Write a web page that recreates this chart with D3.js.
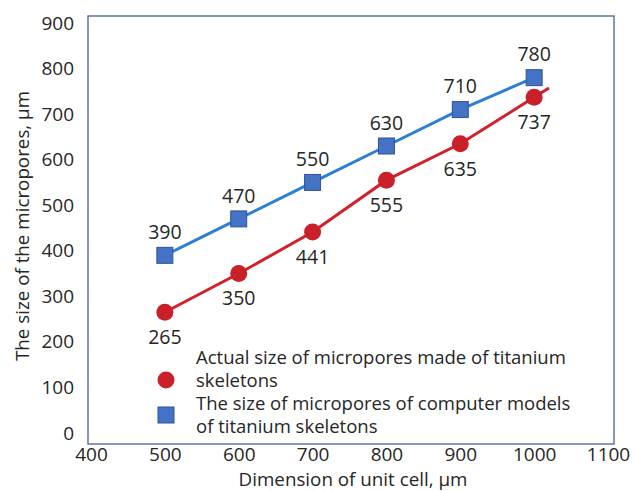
<!DOCTYPE html>
<html><head><meta charset="utf-8">
<script src="https://cdn.jsdelivr.net/npm/d3@7"></script>
<style>body{margin:0;background:#fff}svg{display:block}text{font-family:"Open Sans",sans-serif;fill:#262626}</style>
</head><body><svg id="c" width="635" height="491"></svg>
<script>
const cells = [500, 600, 700, 800, 900, 1000];
const actual = [265, 350, 441, 555, 635, 737];
const model = [390, 470, 550, 630, 710, 780];
const xTicks = [400, 500, 600, 700, 800, 900, 1000, 1100];
const yTicks = [0, 100, 200, 300, 400, 500, 600, 700, 800, 900];
const actualName = ["Actual size of micropores made of titanium", "skeletons"];
const modelName = ["The size of micropores of computer models", "of titanium skeletons"];
const xTitle = "Dimension of unit cell, μm";
const yTitle = "The size of the micropores, μm";

const svg = d3.select("#c");
const x = d3.scaleLinear().domain([400, 1100]).range([91, 608]);
const y = d3.scaleLinear().domain([0, 900]).range([433, 23]);
const red = "#C9202A", redLine = "#D0212C", blueFill = "#4472C4", blueStroke = "#2F5597", blueLine = "#2E7FD2";
const fTick = "19px", fLab = "19.5px", fText = "18.8px", fLeg = "18.5px";

// frame
svg.append("rect").attr("x", x(400) - 3).attr("y", y(900) - 7)
  .attr("width", x(1100) + 6 - (x(400) - 3)).attr("height", y(0) + 11 - (y(900) - 7))
  .attr("fill", "none").attr("stroke", "#5B76AC").attr("stroke-width", 1.5);

// axes (labels only)
const xAxis = d3.axisBottom(x).tickValues(xTicks).tickFormat(d3.format("d")).tickSize(0).tickPadding(0);
const gx = svg.append("g").attr("transform", "translate(0,447)").call(xAxis);
gx.select(".domain").remove();
gx.selectAll("text").attr("dy", "0.72em").style("font-size", fTick).attr("fill", "#262626");

const yAxis = d3.axisLeft(y).tickValues(yTicks).tickFormat(d3.format("d")).tickSize(0).tickPadding(0);
const gy = svg.append("g").attr("transform", "translate(74,0)").call(yAxis);
gy.select(".domain").remove();
gy.selectAll("text").style("font-size", fTick).attr("fill", "#262626");
svg.selectAll("g").attr("font-family", null).attr("font-size", null);

// lines
const line = d3.line().x(d => x(d[0])).y(d => y(d[1]));
const modelPts = cells.map((c, i) => [c, model[i]]);
const actualPts = cells.map((c, i) => [c, actual[i]]);
// red line extends a little past the last point along the last segment
const n = cells.length;
const slope = (actual[n-1] - actual[n-2]) / (cells[n-1] - cells[n-2]);
const ext = [1020, actual[n-1] + slope * (1020 - cells[n-1])];
svg.append("path").attr("d", line(modelPts)).attr("fill", "none").attr("stroke", blueLine).attr("stroke-width", 3);
svg.append("path").attr("d", line(actualPts.concat([ext]))).attr("fill", "none").attr("stroke", redLine).attr("stroke-width", 3);

// markers
const s = 16;
svg.selectAll(".sq").data(modelPts).enter().append("rect")
  .attr("x", d => x(d[0]) - s/2).attr("y", d => y(d[1]) - s/2).attr("width", s).attr("height", s)
  .attr("fill", blueFill).attr("stroke", blueStroke).attr("stroke-width", 1);
svg.selectAll(".ci").data(actualPts).enter().append("circle")
  .attr("cx", d => x(d[0])).attr("cy", d => y(d[1])).attr("r", 8.5).attr("fill", red);

// data labels
svg.selectAll(".lm").data(modelPts).enter().append("text")
  .attr("x", d => x(d[0])).attr("y", d => y(d[1]) - 23).attr("dy", "0.35em")
  .attr("text-anchor", "middle").style("font-size", fLab).text(d => d[1]);
svg.selectAll(".la").data(actualPts).enter().append("text")
  .attr("x", d => x(d[0])).attr("y", d => y(d[1]) + 25).attr("dy", "0.35em")
  .attr("text-anchor", "middle").style("font-size", fLab).text(d => d[1]);

// legend
svg.append("circle").attr("cx", 166).attr("cy", 380).attr("r", 8.5).attr("fill", red);
svg.append("rect").attr("x", 166 - s/2).attr("y", 415 - s/2).attr("width", s).attr("height", s)
  .attr("fill", blueFill).attr("stroke", blueStroke).attr("stroke-width", 1);
[[actualName, 358], [modelName, 404]].forEach(([lines, y0]) => {
  const t = svg.append("text").attr("x", 196).attr("y", y0).style("font-size", fLeg);
  lines.forEach((l, i) => t.append("tspan").attr("x", 196).attr("y", y0 + i * 23).attr("dy", "0.35em").text(l));
});

// titles
svg.append("text").attr("x", 353).attr("y", 479).attr("dy", "0.35em").attr("text-anchor", "middle")
  .style("font-size", fText).text(xTitle);
svg.append("text").attr("transform", "translate(22,226) rotate(-90)").attr("dy", "0.35em")
  .attr("text-anchor", "middle").style("font-size", fText).text(yTitle);
</script></body></html>
